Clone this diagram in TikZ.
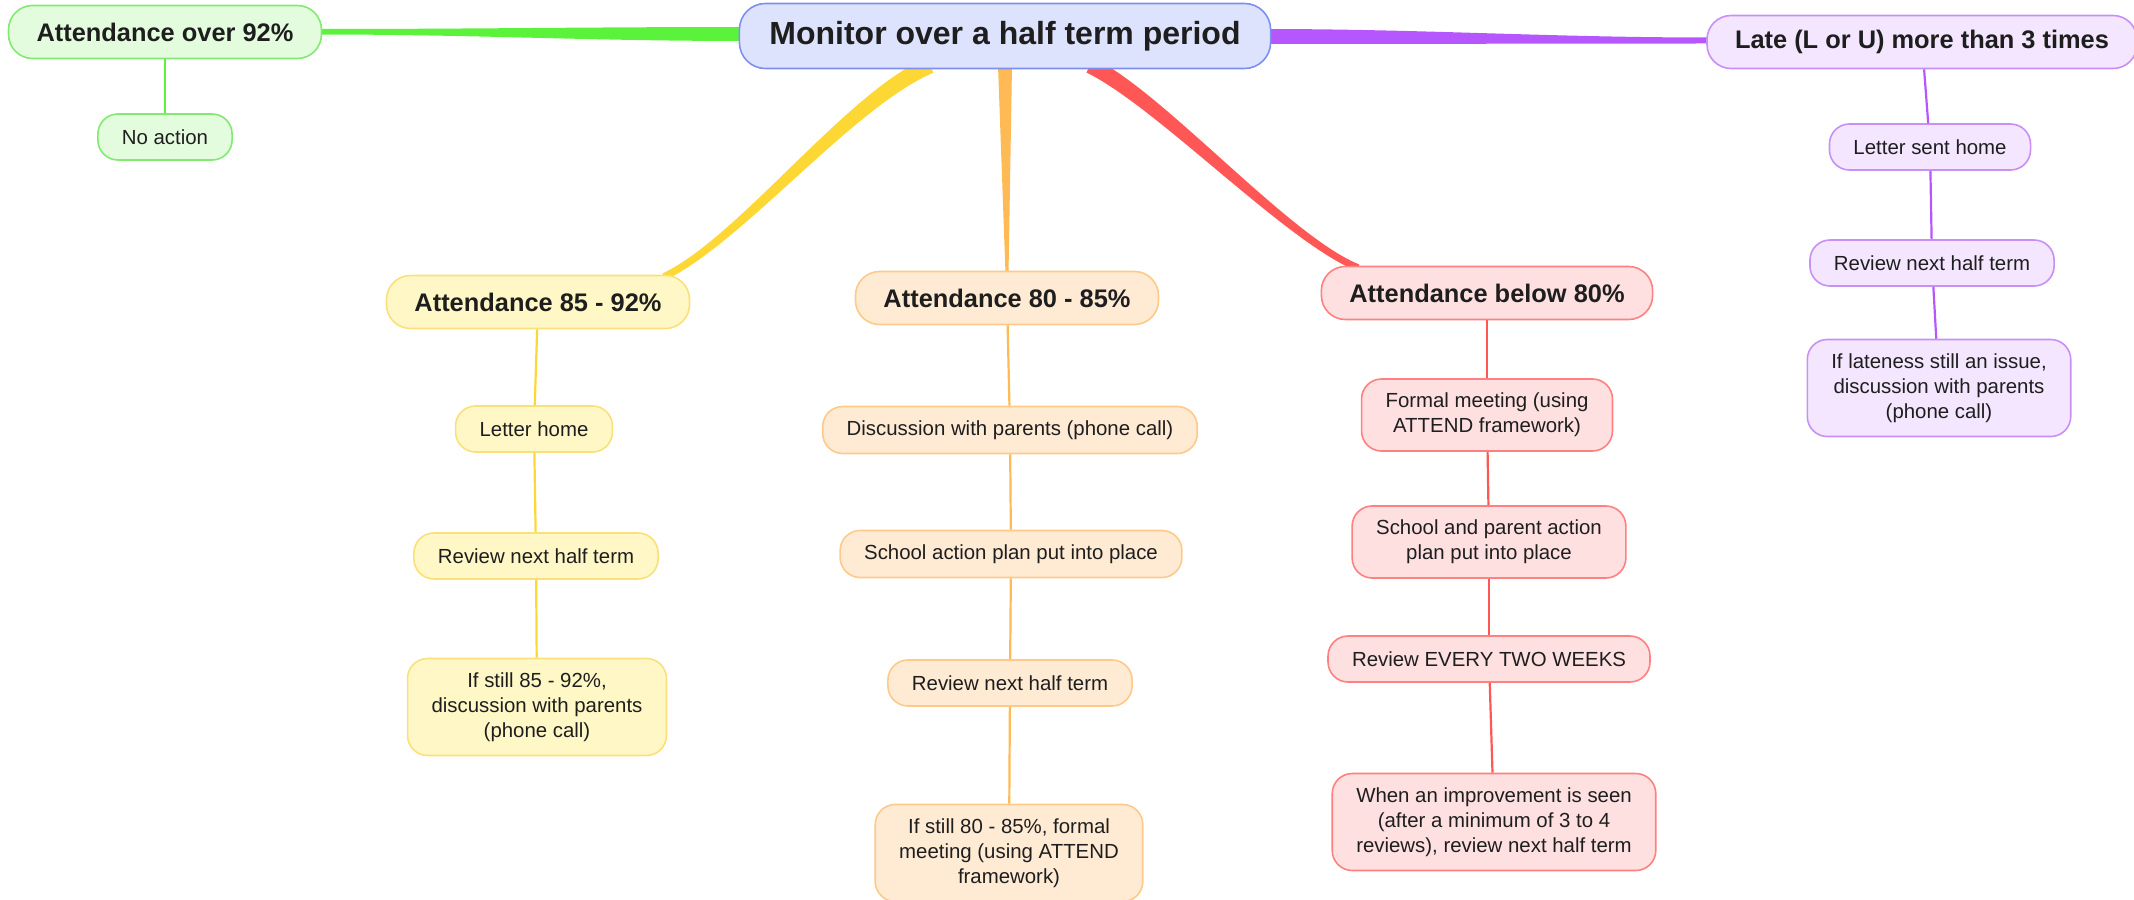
\documentclass[tikz,border=0pt]{standalone}
\usepackage{fontspec}
\setmainfont{Liberation Sans}
\usetikzlibrary{calc}
\usetikzlibrary{backgrounds}

\definecolor{txt}{HTML}{1E1E1E}
\definecolor{bfill}{HTML}{DEE3FD}
\definecolor{bedge}{HTML}{7F8FF0}
\definecolor{gline}{HTML}{5BF23B}
\definecolor{gfill}{HTML}{E4FCDE}
\definecolor{gedge}{HTML}{82EA72}
\definecolor{pline}{HTML}{B557FD}
\definecolor{pfill}{HTML}{F3E6FE}
\definecolor{pedge}{HTML}{C890F6}
\definecolor{yline}{HTML}{FDD835}
\definecolor{yfill}{HTML}{FFF8C6}
\definecolor{yedge}{HTML}{FBE07A}
\definecolor{oline}{HTML}{FFBA55}
\definecolor{ofill}{HTML}{FFEAD4}
\definecolor{oedge}{HTML}{FFC98A}
\definecolor{rline}{HTML}{FF5656}
\definecolor{rfill}{HTML}{FFE0E0}
\definecolor{redge}{HTML}{FF8080}

\begin{document}
\begin{tikzpicture}[x=0.5pt,y=-0.5pt,
    box/.style={draw,line width=0.8pt,rounded corners=10pt,align=center,
      inner xsep=12pt,inner ysep=7pt,minimum height=23pt,text=txt,
      font=\fontsize{10.2}{12.5}\selectfont},
    topic/.style={box,rounded corners=12pt,inner xsep=14pt,minimum height=26.5pt,
      font=\fontsize{12.7}{15}\selectfont\bfseries},
    gbox/.style={fill=gfill,draw=gedge},
    pbox/.style={fill=pfill,draw=pedge},
    ybox/.style={fill=yfill,draw=yedge},
    obox/.style={fill=ofill,draw=oedge},
    rbox/.style={fill=rfill,draw=redge},
    leaf/.style={line width=1.1pt}]
  \useasboundingbox (0,0) rectangle (2134,899);

  \node[box,fill=bfill,draw=bedge,rounded corners=13pt,inner xsep=15pt,minimum height=32.5pt,
    font=\fontsize{16}{19}\selectfont\bfseries] (title) at (1005,36) {Monitor over a half term period};

  % green branch
  \node[topic,gbox] (over92) at (165,32) {Attendance over 92\%};
  \node[box,gbox] (noaction) at (165,137) {No action};

  % purple branch
  \node[topic,pbox] (late) at (1922,42) {Late (L or U) more than 3 times};
  \node[box,pbox] (lettersent) at (1930,147) {Letter sent home};
  \node[box,pbox] (latereview) at (1932,263) {Review next half term};
  \node[box,pbox] (lateissue) at (1939,388) {If lateness still an issue,\\ discussion with parents\\ (phone call)};

  % yellow branch
  \node[topic,ybox] (a8592) at (538,302) {Attendance 85 - 92\%};
  \node[box,ybox] (letterhome) at (534,429) {Letter home};
  \node[box,ybox] (yreview) at (536,556) {Review next half term};
  \node[box,ybox] (ystill) at (537,707) {If still 85 - 92\%,\\ discussion with parents\\ (phone call)};

  % orange branch
  \node[topic,obox] (a8085) at (1007,298) {Attendance 80 - 85\%};
  \node[box,obox] (odisc) at (1010,430) {Discussion with parents (phone call)};
  \node[box,obox] (oplan) at (1011,554) {School action plan put into place};
  \node[box,obox] (oreview) at (1010,683) {Review next half term};
  \node[box,obox] (ostill) at (1009,853) {If still 80 - 85\%, formal\\ meeting (using ATTEND\\ framework)};

  % red branch
  \node[topic,rbox] (abelow) at (1487,293) {Attendance below 80\%};
  \node[box,rbox] (rformal) at (1487,415) {Formal meeting (using\\ ATTEND framework)};
  \node[box,rbox] (rplan) at (1489,542) {School and parent action\\ plan put into place};
  \node[box,rbox] (rreview) at (1489,659) {Review EVERY TWO WEEKS};
  \node[box,rbox] (rwhen) at (1494,822) {When an improvement is seen\\ (after a minimum of 3 to 4\\ reviews), review next half term};

  % thick tapered branches
  \begin{scope}[on background layer]
    \coordinate (ys) at ($(title.south)+(-75,-4)$);
    \coordinate (ye) at ($(a8592.north)+(126,2)$);
    \coordinate (rs) at ($(title.south)+(85,-4)$);
    \coordinate (re) at ($(abelow.north)+(-129,2)$);
    \fill[gline] ($(title.west)+(8,-9)$) .. controls +(-160,0) and +(160,0) .. ($(over92.east)+(-4,-3)$)
      -- ($(over92.east)+(-4,2.5)$) .. controls +(160,0) and +(-160,0) .. ($(title.west)+(8,5)$) -- cycle;
    \fill[pline] ($(title.east)+(-8,-7)$) .. controls +(160,0) and +(-160,0) .. ($(late.west)+(4,-4.5)$)
      -- ($(late.west)+(4,1.5)$) .. controls +(-160,0) and +(160,0) .. ($(title.east)+(-8,8)$) -- cycle;
    \fill[oline] ($(title.south)+(-7,-4)$) -- ($(a8085.north)+(-1.5,3)$)
      -- ($(a8085.north)+(1.5,3)$) -- ($(title.south)+(7,-4)$) -- cycle;
    \fill[yline] ($(ys)+(3.4,7.4)$) .. controls +(-80,34) and +(76,-36) .. ($(ye)+(1.5,3.2)$)
      -- ($(ye)+(-1.5,-3.2)$) .. controls +(76,-36) and +(-80,34) .. ($(ys)+(-3.4,-7.4)$) -- cycle;
    \fill[rline] ($(rs)+(-3.6,7.2)$) .. controls +(70,34) and +(-70,-28) .. ($(re)+(-1.3,3.2)$)
      -- ($(re)+(1.3,-3.2)$) .. controls +(-70,-28) and +(70,34) .. ($(rs)+(3.6,-7.2)$) -- cycle;
  \end{scope}

  \path[leaf,gline] (over92) edge (noaction);
  \path[leaf,pline]
    (late) edge (lettersent)
    (lettersent) edge (latereview)
    (latereview) edge (lateissue);
  \path[leaf,yline]
    (a8592) edge (letterhome)
    (letterhome) edge (yreview)
    (yreview) edge (ystill);
  \path[leaf,oline]
    (a8085) edge (odisc)
    (odisc) edge (oplan)
    (oplan) edge (oreview)
    (oreview) edge (ostill);
  \path[leaf,rline]
    (abelow) edge (rformal)
    (rformal) edge (rplan)
    (rplan) edge (rreview)
    (rreview) edge (rwhen);
\end{tikzpicture}
\end{document}
